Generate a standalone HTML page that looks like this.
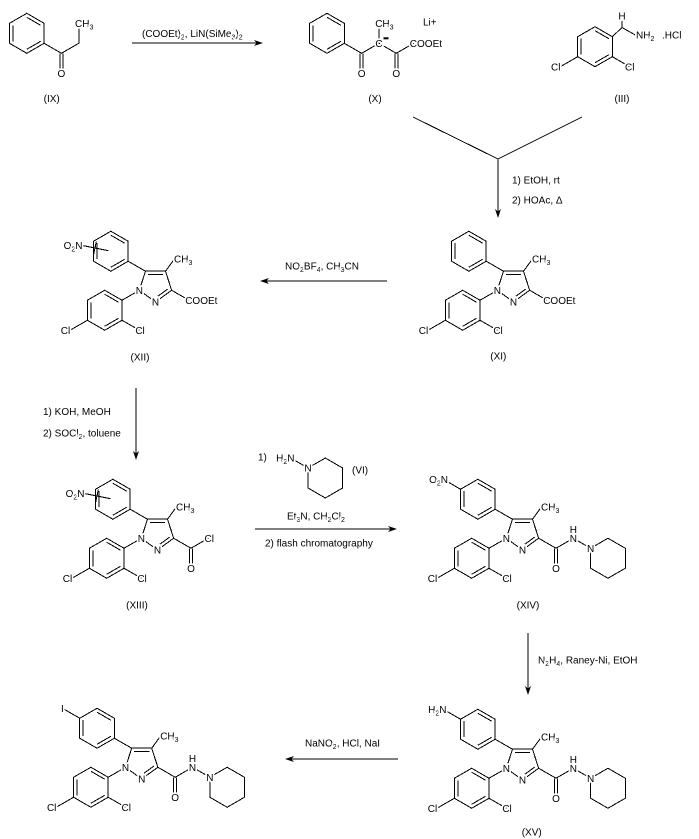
<!DOCTYPE html>
<html><head><meta charset="utf-8">
<style>
body{margin:0;background:#fff}
svg{display:block}
svg text{font-family:"Liberation Sans",Arial,sans-serif;font-size:10px;fill:#000;stroke:#fff;stroke-width:3.5px;paint-order:stroke;stroke-linejoin:round}
.sb{font-size:7px}
.b{stroke:#000;stroke-width:1;fill:none;shape-rendering:crispEdges}
</style></head>
<body>
<svg width="699" height="839" viewBox="0 0 699 839" xmlns="http://www.w3.org/2000/svg">
<rect width="699" height="839" fill="#fff"/>

<!-- ===== IX ===== -->
<path class="b" d="M26.8,13.3L44.12,23.3L44.12,43.3L26.8,53.3L9.48,43.3L9.48,23.3Z M12.94,25.3L12.94,41.3 M26.8,17.3L40.66,25.3 M40.66,41.3L26.8,49.3 M44.12,43.3L61.44,53.3L78.76,43.3L78.76,25 M59.94,53.6L59.94,73 M62.94,53.6L62.94,73"/>
<text x="61.44" y="76.9" text-anchor="middle">O</text>
<text x="75" y="27">CH<tspan class="sb" dy="2.5">3</tspan></text>
<text x="51.7" y="102" text-anchor="middle">(IX)</text>

<!-- arrow 1 -->
<path class="b" d="M132,43L257,43"/>
<polygon points="263,43 254,40 256.5,43 254,46" fill="#000"/>
<text x="142" y="37">(COOEt)<tspan class="sb" dy="2.5">2</tspan><tspan dy="-2.5">, LiN(SiMe</tspan><tspan class="sb" dy="2.5">3</tspan><tspan dy="-2.5">)</tspan><tspan class="sb" dy="2.5">2</tspan></text>

<!-- ===== X ===== -->
<path class="b" d="M327,13.3L344.32,23.3L344.32,43.3L327,53.3L309.68,43.3L309.68,23.3Z M313.14,25.3L313.14,41.3 M327,17.3L340.86,25.3 M340.86,41.3L327,49.3 M344.32,43.3L361.64,53.3L378.96,43.3L396.28,53.3L413.6,43.3 M378.96,43.3L378.96,25 M360.14,53.6L360.14,73 M363.14,53.6L363.14,73 M394.78,53.6L394.78,73 M397.78,53.6L397.78,73"/>
<text x="378.96" y="47" text-anchor="middle">C</text>
<rect x="383.5" y="37.3" width="5" height="2" fill="#000"/>
<text x="375.2" y="27">CH<tspan class="sb" dy="2.5">3</tspan></text>
<text x="361.64" y="76.9" text-anchor="middle">O</text>
<text x="396.28" y="76.9" text-anchor="middle">O</text>
<text x="409.8" y="47">COOEt</text>
<text x="423" y="25.5">Li+</text>
<text x="375" y="102" text-anchor="middle">(X)</text>

<!-- ===== III ===== -->
<path class="b" d="M595,26.7L612.32,36.7L612.32,56.7L595,66.7L577.68,56.7L577.68,36.7Z M581.14,38.7L581.14,54.7 M595,30.7L608.86,38.7 M608.86,54.7L595,62.7 M612.32,36.7L622,27.5L637,36 M622,27.5L622,21 M577.68,56.7L560.36,66.7 M612.32,56.7L629.64,66.7"/>
<text x="622" y="19.7" text-anchor="middle">H</text>
<text x="636" y="38.7">NH<tspan class="sb" dy="2.5">2</tspan></text>
<text x="662" y="38.7">.HCl</text>
<text x="560.5" y="70.3" text-anchor="end">Cl</text>
<text x="625" y="70.3">Cl</text>
<text x="622" y="102" text-anchor="middle">(III)</text>

<!-- V junction and arrow -->
<path class="b" d="M413,117L498,159L582,117 M498,159L498,212"/>
<polygon points="498,218 495,209 498,211.5 501,209" fill="#000"/>
<text x="512" y="183.7">1) EtOH, rt</text>
<text x="512" y="203.7">2) HOAc, Δ</text>

<!-- ===== XI ===== -->
<g transform="translate(513.5,285)">
<path class="b" d="M-16.17,5.25L0,17L16.17,5.25L10,-13.76L-10,-13.76Z M-7.6,-10.46L7.6,-10.46 M2.4,11.2L12.29,3.99 M-44.64,-53.76L-27.32,-43.76L-27.32,-23.76L-44.64,-13.76L-61.96,-23.76L-61.96,-43.76Z M-58.5,-41.76L-58.5,-25.76 M-44.64,-49.76L-30.78,-41.76 M-30.78,-25.76L-44.64,-17.76 M-10,-13.76L-27.32,-23.76 M-50.81,5.25L-33.49,15.25L-33.49,35.25L-50.81,45.25L-68.13,35.25L-68.13,15.25Z M-64.67,17.25L-64.67,33.25 M-50.81,9.25L-36.95,17.25 M-36.95,33.25L-50.81,41.25 M-16.17,5.25L-33.49,15.25 M-33.49,35.25L-16.17,45.25 M-68.13,35.25L-85.45,45.25 M10,-13.76L18,-24.8 M16.17,5.25L33.49,15.25"/>
<text x="-16.17" y="8.85" text-anchor="middle">N</text>
<text x="0" y="20.6" text-anchor="middle">N</text>
<text x="18.5" y="-22.7">CH<tspan class="sb" dy="2.5">3</tspan></text>
<text x="-20.2" y="48.85">Cl</text>
<text x="-85.3" y="48.85" text-anchor="end">Cl</text>
<text x="29.7" y="18.85">COOEt</text>
</g>
<text x="498.3" y="359.7" text-anchor="middle">(XI)</text>

<!-- arrow XI -> XII -->
<path class="b" d="M387,281L266,281"/>
<polygon points="260,281 269,278 266.5,281 269,284" fill="#000"/>
<text x="285" y="269.7">NO<tspan class="sb" dy="2.5">2</tspan><tspan dy="-2.5">BF</tspan><tspan class="sb" dy="2.5">4</tspan><tspan dy="-2.5">, CH</tspan><tspan class="sb" dy="2.5">3</tspan><tspan dy="-2.5">CN</tspan></text>

<!-- ===== XII ===== -->
<g transform="translate(155.5,285)">
<path class="b" d="M-16.17,5.25L0,17L16.17,5.25L10,-13.76L-10,-13.76Z M-7.6,-10.46L7.6,-10.46 M2.4,11.2L12.29,3.99 M-44.64,-53.76L-27.32,-43.76L-27.32,-23.76L-44.64,-13.76L-61.96,-23.76L-61.96,-43.76Z M-58.5,-41.76L-58.5,-25.76 M-44.64,-49.76L-30.78,-41.76 M-30.78,-25.76L-44.64,-17.76 M-10,-13.76L-27.32,-23.76 M-50.81,5.25L-33.49,15.25L-33.49,35.25L-50.81,45.25L-68.13,35.25L-68.13,15.25Z M-64.67,17.25L-64.67,33.25 M-50.81,9.25L-36.95,17.25 M-36.95,33.25L-50.81,41.25 M-16.17,5.25L-33.49,15.25 M-33.49,35.25L-16.17,45.25 M-68.13,35.25L-85.45,45.25 M10,-13.76L18,-24.8 M16.17,5.25L33.49,15.25 M-73,-39.5L-47,-34.3 M-59.2,-43.4L-61.8,-30.6"/>
<text x="-16.17" y="8.85" text-anchor="middle">N</text>
<text x="0" y="20.6" text-anchor="middle">N</text>
<text x="18.5" y="-22.7">CH<tspan class="sb" dy="2.5">3</tspan></text>
<text x="-20.2" y="48.85">Cl</text>
<text x="-85.3" y="48.85" text-anchor="end">Cl</text>
<text x="29.7" y="18.85">COOEt</text>
<text x="-73" y="-36.2" text-anchor="end">O<tspan class="sb" dy="2.5">2</tspan><tspan dy="-2.5">N</tspan></text>
</g>
<text x="140" y="360.3" text-anchor="middle">(XII)</text>

<!-- arrow XII -> XIII -->
<path class="b" d="M136,388L136,454"/>
<polygon points="136,460 133,451 136,453.5 139,451" fill="#000"/>
<text x="43" y="415">1) KOH, MeOH</text>
<text x="43" y="436.7">2) SOCl<tspan class="sb" dy="2.5">2</tspan><tspan dy="-2.5">, toluene</tspan></text>

<!-- ===== XIII ===== -->
<g transform="translate(157.5,533)">
<path class="b" d="M-16.17,5.25L0,17L16.17,5.25L10,-13.76L-10,-13.76Z M-7.6,-10.46L7.6,-10.46 M2.4,11.2L12.29,3.99 M-44.64,-53.76L-27.32,-43.76L-27.32,-23.76L-44.64,-13.76L-61.96,-23.76L-61.96,-43.76Z M-58.5,-41.76L-58.5,-25.76 M-44.64,-49.76L-30.78,-41.76 M-30.78,-25.76L-44.64,-17.76 M-10,-13.76L-27.32,-23.76 M-50.81,5.25L-33.49,15.25L-33.49,35.25L-50.81,45.25L-68.13,35.25L-68.13,15.25Z M-64.67,17.25L-64.67,33.25 M-50.81,9.25L-36.95,17.25 M-36.95,33.25L-50.81,41.25 M-16.17,5.25L-33.49,15.25 M-33.49,35.25L-16.17,45.25 M-68.13,35.25L-85.45,45.25 M10,-13.76L18,-24.8 M16.17,5.25L33.49,15.25L50.81,5.25 M31.99,15.6L31.99,35 M34.99,15.6L34.99,35 M-73,-39.5L-47,-34.3 M-59.2,-43.4L-61.8,-30.6"/>
<text x="-16.17" y="8.85" text-anchor="middle">N</text>
<text x="0" y="20.6" text-anchor="middle">N</text>
<text x="18.5" y="-22.7">CH<tspan class="sb" dy="2.5">3</tspan></text>
<text x="-20.2" y="48.85">Cl</text>
<text x="-85.3" y="48.85" text-anchor="end">Cl</text>
<text x="33.49" y="38.85" text-anchor="middle">O</text>
<text x="47" y="8.85">Cl</text>
<text x="-73" y="-36.2" text-anchor="end">O<tspan class="sb" dy="2.5">2</tspan><tspan dy="-2.5">N</tspan></text>
</g>
<text x="137" y="608.7" text-anchor="middle">(XIII)</text>

<!-- arrow XIII -> XIV -->
<path class="b" d="M255,529L391,529"/>
<polygon points="397,529 388,526 390.5,529 388,532" fill="#000"/>
<path class="b" d="M325.3,458L342.6,468L342.6,488L325.3,498L308,488L308,468Z M308,468L290.7,458"/>
<text x="258" y="460.7">1)</text>
<text x="294.5" y="461.7" text-anchor="end">H<tspan class="sb" dy="2.5">2</tspan><tspan dy="-2.5">N</tspan></text>
<text x="308" y="471.6" text-anchor="middle">N</text>
<text x="352" y="473.7">(VI)</text>
<text x="287" y="519.7">Et<tspan class="sb" dy="2.5">3</tspan><tspan dy="-2.5">N, CH</tspan><tspan class="sb" dy="2.5">2</tspan><tspan dy="-2.5">Cl</tspan><tspan class="sb" dy="2.5">2</tspan></text>
<text x="265" y="546.7">2) flash chromatography</text>

<!-- ===== XIV ===== -->
<g transform="translate(522.5,533)">
<path class="b" d="M-16.17,5.25L0,17L16.17,5.25L10,-13.76L-10,-13.76Z M-7.6,-10.46L7.6,-10.46 M2.4,11.2L12.29,3.99 M-44.64,-53.76L-27.32,-43.76L-27.32,-23.76L-44.64,-13.76L-61.96,-23.76L-61.96,-43.76Z M-58.5,-41.76L-58.5,-25.76 M-44.64,-49.76L-30.78,-41.76 M-30.78,-25.76L-44.64,-17.76 M-10,-13.76L-27.32,-23.76 M-50.81,5.25L-33.49,15.25L-33.49,35.25L-50.81,45.25L-68.13,35.25L-68.13,15.25Z M-64.67,17.25L-64.67,33.25 M-50.81,9.25L-36.95,17.25 M-36.95,33.25L-50.81,41.25 M-16.17,5.25L-33.49,15.25 M-33.49,35.25L-16.17,45.25 M-68.13,35.25L-85.45,45.25 M10,-13.76L18,-24.8 M16.17,5.25L33.49,15.25L50.81,5.25L68.13,15.25 M31.99,15.6L31.99,35 M34.99,15.6L34.99,35 M68.13,15.25L85.45,5.25L102.77,15.25L102.77,35.25L85.45,45.25L68.13,35.25Z M-61.96,-43.76L-79.28,-53.76"/>
<text x="-16.17" y="8.85" text-anchor="middle">N</text>
<text x="0" y="20.6" text-anchor="middle">N</text>
<text x="18.5" y="-22.7">CH<tspan class="sb" dy="2.5">3</tspan></text>
<text x="-20.2" y="48.85">Cl</text>
<text x="-85.3" y="48.85" text-anchor="end">Cl</text>
<text x="33.49" y="38.85" text-anchor="middle">O</text>
<text x="50.81" y="-0.1" text-anchor="middle">H</text>
<text x="50.81" y="8.85" text-anchor="middle">N</text>
<text x="68.13" y="18.85" text-anchor="middle">N</text>
<text x="-74.5" y="-50.2" text-anchor="end">O<tspan class="sb" dy="2.5">2</tspan><tspan dy="-2.5">N</tspan></text>
</g>
<text x="528" y="608.7" text-anchor="middle">(XIV)</text>

<!-- arrow XIV -> XV -->
<path class="b" d="M528,633L528,689"/>
<polygon points="528,695 525,686 528,688.5 531,686" fill="#000"/>
<text x="538" y="663.7">N<tspan class="sb" dy="2.5">2</tspan><tspan dy="-2.5">H</tspan><tspan class="sb" dy="2.5">4</tspan><tspan dy="-2.5">, Raney-Ni, EtOH</tspan></text>

<!-- ===== XV ===== -->
<g transform="translate(522.5,763)">
<path class="b" d="M-16.17,5.25L0,17L16.17,5.25L10,-13.76L-10,-13.76Z M-7.6,-10.46L7.6,-10.46 M2.4,11.2L12.29,3.99 M-44.64,-53.76L-27.32,-43.76L-27.32,-23.76L-44.64,-13.76L-61.96,-23.76L-61.96,-43.76Z M-58.5,-41.76L-58.5,-25.76 M-44.64,-49.76L-30.78,-41.76 M-30.78,-25.76L-44.64,-17.76 M-10,-13.76L-27.32,-23.76 M-50.81,5.25L-33.49,15.25L-33.49,35.25L-50.81,45.25L-68.13,35.25L-68.13,15.25Z M-64.67,17.25L-64.67,33.25 M-50.81,9.25L-36.95,17.25 M-36.95,33.25L-50.81,41.25 M-16.17,5.25L-33.49,15.25 M-33.49,35.25L-16.17,45.25 M-68.13,35.25L-85.45,45.25 M10,-13.76L18,-24.8 M16.17,5.25L33.49,15.25L50.81,5.25L68.13,15.25 M31.99,15.6L31.99,35 M34.99,15.6L34.99,35 M68.13,15.25L85.45,5.25L102.77,15.25L102.77,35.25L85.45,45.25L68.13,35.25Z M-61.96,-43.76L-79.28,-53.76"/>
<text x="-16.17" y="8.85" text-anchor="middle">N</text>
<text x="0" y="20.6" text-anchor="middle">N</text>
<text x="18.5" y="-22.7">CH<tspan class="sb" dy="2.5">3</tspan></text>
<text x="-20.2" y="48.85">Cl</text>
<text x="-85.3" y="48.85" text-anchor="end">Cl</text>
<text x="33.49" y="38.85" text-anchor="middle">O</text>
<text x="50.81" y="-0.1" text-anchor="middle">H</text>
<text x="50.81" y="8.85" text-anchor="middle">N</text>
<text x="68.13" y="18.85" text-anchor="middle">N</text>
<text x="-76" y="-50.2" text-anchor="end">H<tspan class="sb" dy="2.5">2</tspan><tspan dy="-2.5">N</tspan></text>
</g>
<text x="531.7" y="835.3" text-anchor="middle">(XV)</text>

<!-- arrow XV -> XVI -->
<path class="b" d="M398,759L291,759"/>
<polygon points="285,759 294,756 291.5,759 294,762" fill="#000"/>
<text x="305" y="746.7">NaNO<tspan class="sb" dy="2.5">2</tspan><tspan dy="-2.5">, HCl, NaI</tspan></text>

<!-- ===== XVI (iodo) ===== -->
<g transform="translate(141.7,762)">
<path class="b" d="M-16.17,5.25L0,17L16.17,5.25L10,-13.76L-10,-13.76Z M-7.6,-10.46L7.6,-10.46 M2.4,11.2L12.29,3.99 M-44.64,-53.76L-27.32,-43.76L-27.32,-23.76L-44.64,-13.76L-61.96,-23.76L-61.96,-43.76Z M-58.5,-41.76L-58.5,-25.76 M-44.64,-49.76L-30.78,-41.76 M-30.78,-25.76L-44.64,-17.76 M-10,-13.76L-27.32,-23.76 M-50.81,5.25L-33.49,15.25L-33.49,35.25L-50.81,45.25L-68.13,35.25L-68.13,15.25Z M-64.67,17.25L-64.67,33.25 M-50.81,9.25L-36.95,17.25 M-36.95,33.25L-50.81,41.25 M-16.17,5.25L-33.49,15.25 M-33.49,35.25L-16.17,45.25 M-68.13,35.25L-85.45,45.25 M10,-13.76L18,-24.8 M16.17,5.25L33.49,15.25L50.81,5.25L68.13,15.25 M31.99,15.6L31.99,35 M34.99,15.6L34.99,35 M68.13,15.25L85.45,5.25L102.77,15.25L102.77,35.25L85.45,45.25L68.13,35.25Z M-61.96,-43.76L-79.28,-53.76"/>
<text x="-16.17" y="8.85" text-anchor="middle">N</text>
<text x="0" y="20.6" text-anchor="middle">N</text>
<text x="18.5" y="-22.7">CH<tspan class="sb" dy="2.5">3</tspan></text>
<text x="-20.2" y="48.85">Cl</text>
<text x="-85.3" y="48.85" text-anchor="end">Cl</text>
<text x="33.49" y="38.85" text-anchor="middle">O</text>
<text x="50.81" y="-0.1" text-anchor="middle">H</text>
<text x="50.81" y="8.85" text-anchor="middle">N</text>
<text x="68.13" y="18.85" text-anchor="middle">N</text>
<text x="-79.28" y="-50.2" text-anchor="middle">I</text>
</g>

</svg>
</body></html>
